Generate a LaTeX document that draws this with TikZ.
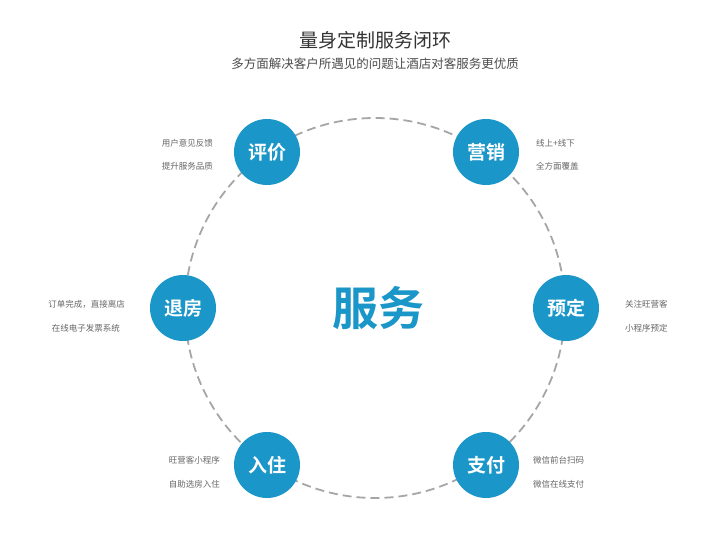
\documentclass[tikz,border=0pt]{standalone}
\usepackage{fontspec}
\newfontfamily\cjk{Noto Sans CJK SC}
\newfontfamily\cjkb{Noto Sans CJK SC Bold}
\definecolor{nb}{HTML}{1A96C8}
\definecolor{tg}{HTML}{666666}
\begin{document}
\begin{tikzpicture}[x=1pt,y=-1pt,
  stage/.style={circle,fill=nb,minimum size=66pt,inner sep=0pt,text=white,font=\cjkb\fontsize{19}{19}\selectfont},
  note/.style={text=tg,font=\cjk\fontsize{8.5}{10}\selectfont,align=left,inner sep=0pt}]
\useasboundingbox (0,0) rectangle (720,553);
\fill[white] (0,0) rectangle (720,553);
\coordinate (c) at (375,308);
\draw[gray!70,line width=1.8pt,dash pattern=on 9pt off 5pt] (c) circle[radius=190];
\node[font=\cjk\fontsize{19}{19}\selectfont,text=black!80] (t) at (375,40) {量身定制服务闭环};
\node[font=\cjk\fontsize{12.5}{13}\selectfont,text=black!70] (s) at (375,64) {多方面解决客户所遇见的问题让酒店对客服务更优质};
\node[font=\cjkb\fontsize{46}{46}\selectfont,text=nb] (m) at (378,308) {服务};
\node[stage] (a) at (267,152) {评价};
\node[stage] (b) at (486,152) {营销};
\node[stage] (d) at (566,308) {预定};
\node[stage] (e) at (486,465) {支付};
\node[stage] (f) at (267,465) {入住};
\node[stage] (g) at (183,308) {退房};
\node[note,anchor=east] (na1) at (213,143) {用户意见反馈};
\node[note,anchor=east] (na2) at (213,166) {提升服务品质};
\node[note,anchor=west] (nb1) at (536,143) {线上+线下};
\node[note,anchor=west] (nb2) at (536,166) {全方面覆盖};
\node[note,anchor=west] (nd1) at (625,304) {关注旺营客};
\node[note,anchor=west] (nd2) at (625,328) {小程序预定};
\node[note,anchor=west] (ne1) at (533,460) {微信前台扫码};
\node[note,anchor=west] (ne2) at (533,484) {微信在线支付};
\node[note,anchor=east] (nf1) at (220,460) {旺营客小程序};
\node[note,anchor=east] (nf2) at (220,484) {自助选房入住};
\node[note,anchor=east] (ng1) at (125,304) {订单完成，直接离店};
\node[note,anchor=east] (ng2) at (120,328) {在线电子发票系统};
\end{tikzpicture}
\end{document}
